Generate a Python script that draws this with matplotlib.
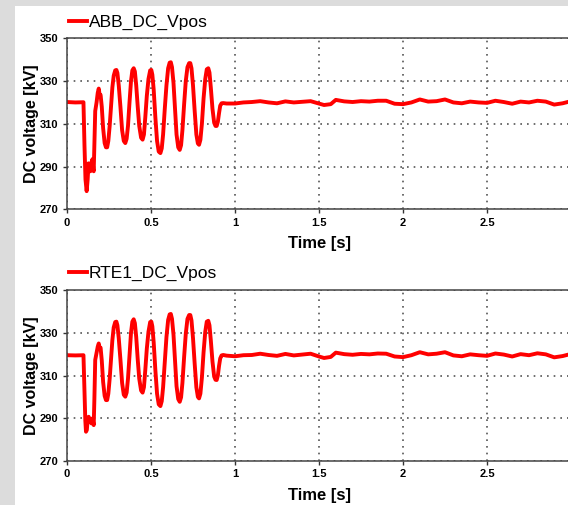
import numpy as np
import matplotlib.pyplot as plt
from matplotlib.patches import Rectangle

plt.rcParams['font.family'] = ['Liberation Sans', 'DejaVu Sans']

# transient part (time [s], voltage [kV])
t_abb = [0.00, 0.05, 0.098, 0.104, 0.110, 0.117, 0.123, 0.128, 0.133, 0.139,
         0.146, 0.152, 0.156, 0.159, 0.163, 0.168, 0.176, 0.183, 0.189, 0.195,
         0.200, 0.207, 0.215, 0.224, 0.232, 0.239, 0.246, 0.254, 0.262, 0.270,
         0.278, 0.287, 0.294, 0.300, 0.308, 0.318, 0.328, 0.338, 0.347, 0.355,
         0.363, 0.372, 0.381, 0.389, 0.397, 0.404, 0.412, 0.421, 0.430, 0.441,
         0.450, 0.458, 0.466, 0.475, 0.485, 0.495, 0.502, 0.508, 0.516, 0.526,
         0.536, 0.546, 0.556, 0.564, 0.572, 0.582, 0.592, 0.602, 0.611, 0.618,
         0.625, 0.634, 0.643, 0.652, 0.662, 0.671, 0.679, 0.687, 0.697, 0.707,
         0.717, 0.727, 0.734, 0.741, 0.750, 0.760, 0.770, 0.779, 0.786, 0.794,
         0.803, 0.813, 0.823, 0.832, 0.841, 0.848, 0.856, 0.866, 0.876, 0.884,
         0.891, 0.898, 0.905, 0.912, 0.920, 0.930, 0.950]
v_abb = [320.2, 320.0, 320.1, 300.0, 284.0, 278.5, 284.0, 291.5, 290.0, 287.8,
         292.0, 293.5, 289.0, 287.8, 300.0, 316.0, 320.0, 324.5, 326.5, 323.0,
         323.5, 318.0, 308.0, 301.0, 299.0, 299.0, 302.0, 309.0, 318.0, 327.0,
         332.5, 335.0, 335.2, 333.8, 328.0, 318.0, 307.0, 302.0, 301.0, 303.0,
         309.0, 320.0, 330.0, 335.0, 336.0, 334.5, 328.0, 318.0, 309.0, 303.5,
         302.6, 305.0, 313.0, 323.0, 331.0, 335.0, 335.2, 333.0, 326.0, 313.0,
         302.0, 297.0, 296.3, 298.5, 305.0, 317.0, 328.0, 336.0, 338.6, 338.8,
         336.5, 329.0, 317.0, 305.0, 299.0, 297.8, 300.0, 307.0, 319.0, 330.0,
         336.5, 338.4, 338.4, 336.0, 328.0, 316.0, 305.0, 300.8, 300.2, 302.5,
         310.0, 322.0, 331.0, 335.5, 336.0, 334.0, 327.0, 317.0, 310.5, 309.0,
         309.0, 311.0, 315.0, 318.5, 319.6, 319.7, 319.5]

t_rte = [0.00, 0.05, 0.098, 0.104, 0.109, 0.113, 0.118, 0.124, 0.129, 0.136,
         0.145, 0.150, 0.153, 0.156, 0.159, 0.163, 0.168, 0.176, 0.183, 0.189,
         0.195, 0.200, 0.207, 0.215, 0.224, 0.232, 0.239, 0.246, 0.254, 0.262,
         0.270, 0.278, 0.287, 0.294, 0.300, 0.308, 0.318, 0.328, 0.338, 0.347,
         0.355, 0.363, 0.372, 0.381, 0.389, 0.397, 0.404, 0.412, 0.421, 0.430,
         0.441, 0.450, 0.458, 0.466, 0.475, 0.485, 0.495, 0.502, 0.508, 0.516,
         0.526, 0.536, 0.546, 0.556, 0.564, 0.572, 0.582, 0.592, 0.602, 0.611,
         0.618, 0.625, 0.634, 0.643, 0.652, 0.662, 0.671, 0.679, 0.687, 0.697,
         0.707, 0.717, 0.727, 0.734, 0.741, 0.750, 0.760, 0.770, 0.779, 0.786,
         0.794, 0.803, 0.813, 0.823, 0.832, 0.841, 0.848, 0.856, 0.866, 0.876,
         0.884, 0.891, 0.898, 0.905, 0.912, 0.920, 0.930, 0.950]
v_rte = [319.5, 319.4, 319.5, 302.0, 289.0, 283.7, 284.5, 290.0, 290.7, 289.0,
         287.6, 289.5, 290.0, 288.0, 286.8, 299.0, 317.3, 320.5, 323.5, 325.0,
         322.5, 323.0, 317.0, 307.0, 300.5, 298.5, 298.5, 301.5, 308.5, 317.5,
         326.5, 332.5, 335.0, 335.2, 333.5, 327.5, 317.5, 306.5, 301.0, 300.1,
         302.0, 308.5, 319.5, 330.0, 335.2, 336.3, 334.5, 328.0, 317.5, 308.5,
         303.0, 302.0, 304.5, 312.5, 322.5, 330.5, 335.0, 335.2, 333.0, 325.5,
         312.5, 301.5, 296.5, 295.7, 298.0, 304.5, 316.5, 328.0, 336.0, 338.6,
         338.8, 336.5, 329.0, 317.0, 305.0, 299.0, 297.7, 299.8, 306.5, 318.5,
         329.5, 336.5, 338.3, 338.3, 335.8, 327.5, 315.5, 304.5, 300.0, 299.3,
         301.5, 309.0, 321.0, 330.5, 335.2, 335.6, 333.5, 326.5, 316.5, 309.5,
         308.0, 307.9, 310.0, 314.5, 318.0, 319.4, 319.6, 319.3]

# steady state ripple after the transient
t_ss = [1.00, 1.05, 1.10, 1.15, 1.20, 1.25, 1.30, 1.35, 1.40, 1.45,
        1.50, 1.53, 1.57, 1.60, 1.65, 1.70, 1.75, 1.80, 1.85, 1.90,
        1.95, 2.00, 2.05, 2.10, 2.15, 2.20, 2.25, 2.30, 2.35, 2.40,
        2.45, 2.50, 2.55, 2.60, 2.65, 2.70, 2.75, 2.80, 2.85, 2.90,
        2.95, 3.00]
v_abb_ss = [319.5, 320.0, 320.2, 320.6, 320.0, 319.6, 320.5, 320.0, 320.3, 320.6,
            319.5, 318.8, 319.2, 321.2, 320.5, 320.2, 320.6, 320.4, 320.8, 320.8,
            319.4, 319.2, 320.0, 321.4, 320.4, 320.6, 321.4, 320.0, 319.6, 320.4,
            320.0, 319.8, 320.8, 320.2, 319.4, 320.4, 320.0, 320.8, 320.4, 319.0,
            319.6, 320.6]
v_rte_ss = [319.0, 319.5, 319.6, 320.2, 319.6, 319.2, 320.1, 319.4, 319.8, 320.2,
            318.9, 318.2, 318.7, 320.7, 320.0, 319.7, 320.1, 319.9, 320.3, 320.2,
            318.9, 318.6, 319.5, 320.9, 319.9, 320.2, 320.9, 319.4, 319.0, 319.9,
            319.5, 319.2, 320.3, 319.8, 318.9, 320.0, 319.5, 320.4, 319.9, 318.5,
            319.1, 320.1]

series = [("ABB_DC_Vpos", t_abb + t_ss, v_abb + v_abb_ss),
          ("RTE1_DC_Vpos", t_rte + t_ss, v_rte + v_rte_ss)]

xticks = [0, 0.5, 1, 1.5, 2, 2.5]
xticklabels = ["0", "0.5", "1", "1.5", "2", "2.5"]
yticks = [270, 290, 310, 330, 350]

fig = plt.figure(figsize=(5.68, 5.05), dpi=100, facecolor='#dcdcdc')
fig.patches.append(Rectangle((15 / 568, 0), 1, 1 - 6 / 505, transform=fig.transFigure,
                             facecolor='white', edgecolor='none', zorder=-5))

W = (571 - 67) / 568
for i, (name, t, v) in enumerate(series):
    bottom = 0.5855 if i == 0 else 0.0871
    ax = fig.add_axes([67 / 568, bottom, W, 171 / 505])
    ax.plot(t, v, color='#ff0000', lw=2.8, label=name, solid_joinstyle='round')
    ax.set_xlim(0, 3)
    ax.set_ylim(270, 350)
    ax.set_xticks(xticks)
    ax.set_xticklabels(xticklabels)
    ax.set_yticks(yticks)
    ax.grid(True, linestyle=(0, (1, 3)), color='#555555', lw=1.2)
    ax.tick_params(direction='out', length=3, width=1, colors='#333333', pad=3,
                   labelsize=8)
    for lab in ax.get_xticklabels() + ax.get_yticklabels():
        lab.set_fontweight('bold')
        lab.set_color('black')
    for sp in ax.spines.values():
        sp.set_color('#444444')
        sp.set_linewidth(1.1)
    ax.set_ylabel("DC voltage [kV]", fontsize=11.5, fontweight='bold', labelpad=0.5)
    ax.set_xlabel("Time [s]", fontsize=12, fontweight='bold', labelpad=6)
    ax.legend(loc='lower left', bbox_to_anchor=(-0.002, 1.03), frameon=False,
              handlelength=1.0, handletextpad=0.1, borderpad=0.1,
              borderaxespad=0.1, prop={'size': 12.5})

fig.savefig("out.png", dpi=100, facecolor=fig.get_facecolor())
